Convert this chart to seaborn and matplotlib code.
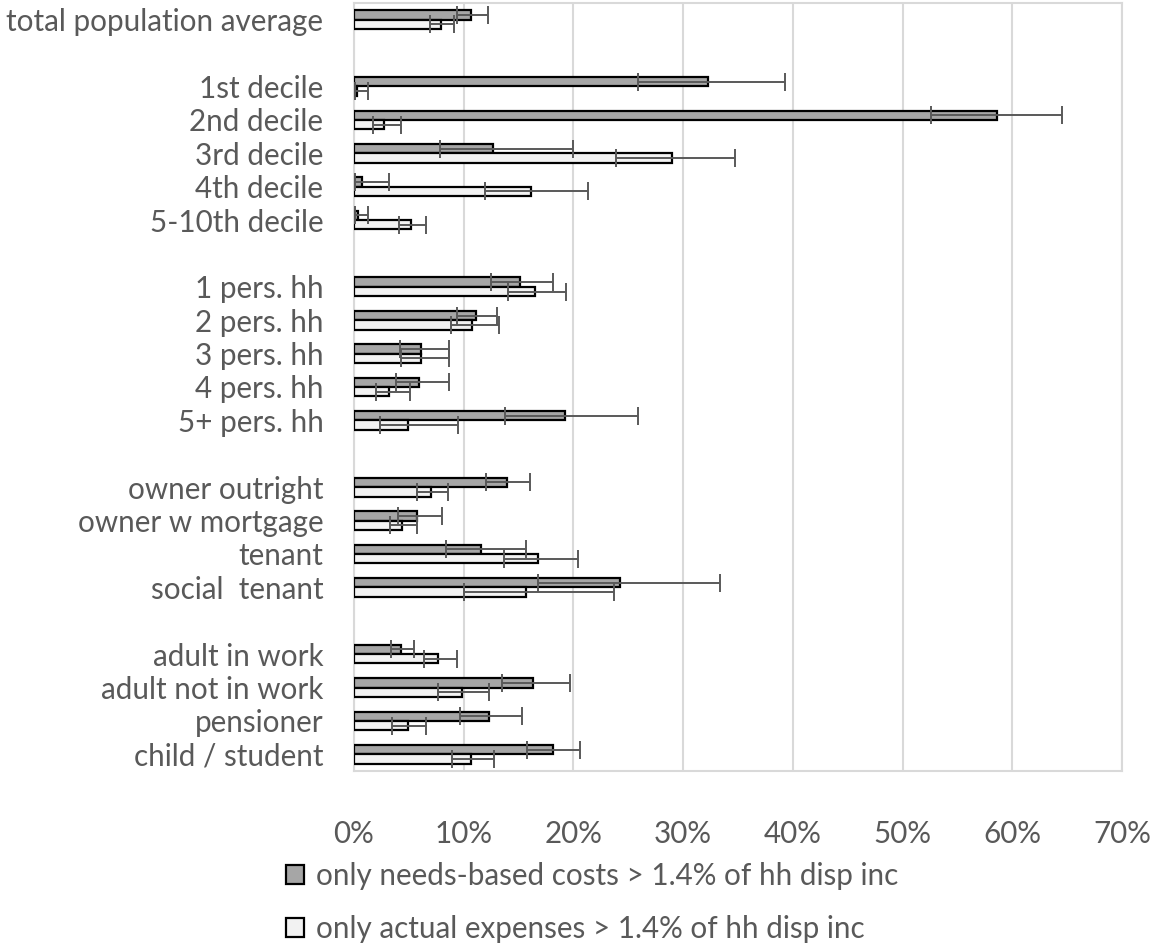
import numpy as np
import pandas as pd
import seaborn as sns
import matplotlib
matplotlib.use("Agg")
import matplotlib.pyplot as plt
from matplotlib.patches import Patch
from matplotlib.ticker import FuncFormatter

# ---------------- data (percent) ----------------
groups = ["total population average", "1st decile", "2nd decile", "3rd decile",
          "4th decile", "5-10th decile", "1 pers. hh", "2 pers. hh", "3 pers. hh",
          "4 pers. hh", "5+ pers. hh", "owner outright", "owner w mortgage",
          "tenant", "social  tenant", "adult in work", "adult not in work",
          "pensioner", "child / student"]

needs = [10.7, 32.3, 58.6, 12.7, 0.7, 0.4, 15.1, 11.1, 6.1, 5.9, 19.2,
         13.9, 5.7, 11.6, 24.2, 4.3, 16.3, 12.3, 18.1]
needs_lo = [9.4, 25.9, 52.6, 7.8, 0.1, 0.1, 12.5, 9.4, 4.2, 3.85, 13.8,
            12.0, 4.0, 8.4, 16.8, 3.4, 13.5, 9.7, 15.75]
needs_hi = [12.2, 39.3, 64.5, 20.0, 3.2, 1.3, 18.1, 13.0, 8.7, 8.7, 25.9,
            16.0, 8.0, 15.7, 33.4, 5.5, 19.7, 15.3, 20.6]

actual = [7.9, 0.3, 2.7, 29.0, 16.1, 5.2, 16.5, 10.8, 6.1, 3.2, 4.9,
          7.05, 4.4, 16.8, 15.7, 7.7, 9.8, 4.9, 10.7]
actual_lo = [6.9, 0.1, 1.7, 23.9, 11.9, 4.1, 14.0, 8.8, 4.3, 2.0, 2.4,
             5.7, 3.3, 13.65, 10.0, 6.4, 7.7, 3.5, 8.95]
actual_hi = [9.1, 1.3, 4.3, 34.7, 21.3, 6.6, 19.3, 13.2, 8.7, 5.1, 9.5,
             8.6, 5.7, 20.4, 23.7, 9.4, 12.3, 6.6, 12.8]

series_names = ["only needs-based costs > 1.4% of hh disp inc",
                "only actual expenses > 1.4% of hh disp inc"]
series_colors = ["#A6A6A6", "#F2F2F2"]

x_ticks = [0, 10, 20, 30, 40, 50, 60, 70]

# category order with blank spacer rows between blocks
order = (["total population average", ""] + groups[1:6] + [" "] + groups[6:11]
         + ["  "] + groups[11:15] + ["   "] + groups[15:19])

# ---------------- build long table ----------------
rows = []
for g, v, lo, hi in zip(groups, needs, needs_lo, needs_hi):
    rows.append(dict(group=g, series=series_names[0], value=v, lo=lo, hi=hi))
for g, v, lo, hi in zip(groups, actual, actual_lo, actual_hi):
    rows.append(dict(group=g, series=series_names[1], value=v, lo=lo, hi=hi))
df = pd.DataFrame(rows)

# ---------------- plot ----------------
sns.set_style("white")
plt.rcParams["font.family"] = ["Lato", "DejaVu Sans"]
text_color = "#595959"
fs = 21.3

fig = plt.figure(figsize=(11.51, 9.44), dpi=100)
ax = fig.add_axes([354 / 1151, 1 - 771 / 944, (1122 - 354) / 1151, 768 / 944])

sns.barplot(data=df, x="value", y="group", hue="series", order=order,
            hue_order=series_names, palette=series_colors, orient="h",
            width=0.56, gap=0, errorbar=None, edgecolor="black",
            linewidth=1.6, legend=False, ax=ax, zorder=3)

# asymmetric error bars placed at the drawn bars
lookup = {(r.group, r.series): (r.lo, r.hi) for r in df.itertuples()}
for container, sname in zip(ax.containers, series_names):
    for patch in container.patches:
        yc = patch.get_y() + patch.get_height() / 2
        idx = int(round(yc))
        if idx < 0 or idx >= len(order):
            continue
        key = (order[idx], sname)
        if key not in lookup:
            continue
        lo, hi = lookup[key]
        v = patch.get_width()
        ax.errorbar(v, yc, xerr=[[max(v - lo, 0)], [max(hi - v, 0)]],
                    fmt="none", ecolor="#595959", elinewidth=1.4,
                    capsize=6.5, capthick=1.4, zorder=4)

ax.set_xlim(0, 70)
ax.set_ylim(len(order) - 0.5, -0.5)
ax.set_xticks(x_ticks)
ax.xaxis.set_major_formatter(FuncFormatter(lambda x, p: f"{x:.0f}%"))
ax.set_xlabel("")
ax.set_ylabel("")
ax.grid(axis="x", color="#D9D9D9", linewidth=1.5, zorder=0)
ax.grid(axis="y", visible=False)
for s in ax.spines.values():
    s.set_color("#D9D9D9")
    s.set_linewidth(1.5)
ax.tick_params(axis="x", length=0, pad=35, labelsize=fs, labelcolor=text_color)
ax.tick_params(axis="y", length=0, pad=22, labelsize=fs, labelcolor=text_color)

handles = [Patch(facecolor=c, edgecolor="black", linewidth=1.6) for c in series_colors]
fig.legend(handles, series_names, loc="upper left",
           bbox_to_anchor=(286 / 1151, 1 - 862 / 944), frameon=False,
           fontsize=fs, labelcolor=text_color, handlelength=0.6,
           handleheight=0.6, handletextpad=0.4, labelspacing=0.85,
           borderpad=0, borderaxespad=0)

fig.savefig("out.png", dpi=100)
